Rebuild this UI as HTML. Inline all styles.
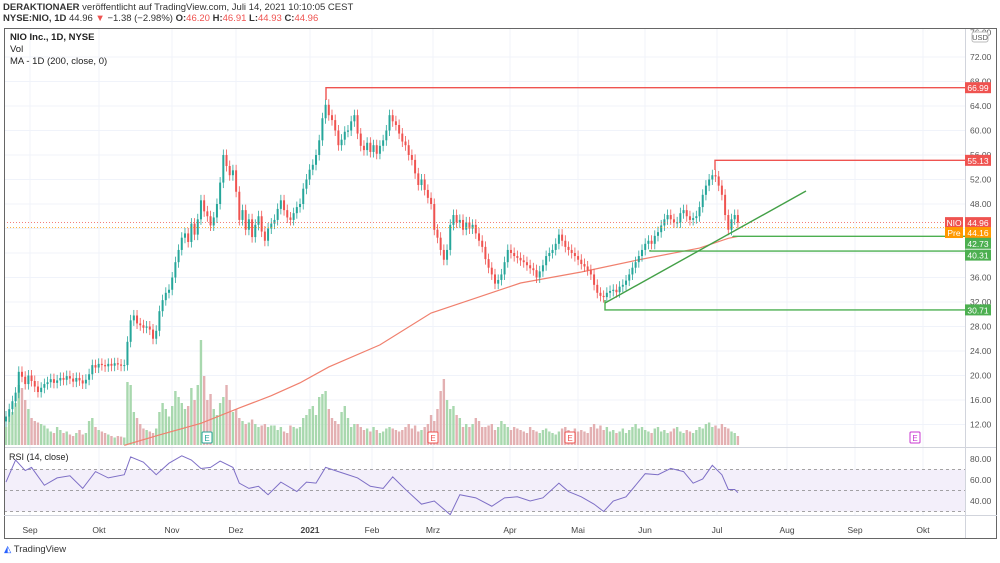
<!DOCTYPE html>
<html><head><meta charset="utf-8"><style>
body{margin:0;background:#fff;width:1000px;height:563px;overflow:hidden;font-family:"Liberation Sans",sans-serif}
svg{position:absolute;left:0;top:0}
text{font-family:"Liberation Sans",sans-serif}
</style></head><body>
<svg id="c" width="1000" height="563">
<g id="grid"></g>
<g id="vol"></g>
<g id="ma"></g>
<g id="candles"></g>
<g id="draw"></g>
<g id="rsi"></g>
<g id="axes"></g>
</svg>
<script>
const closes=[13.3,14.5,15.8,17.2,20.6,19.8,18.6,20.0,19.1,18.2,
17.3,18.0,18.6,18.9,19.4,18.8,19.2,19.6,19.3,19.9,
19.5,19.0,19.6,19.2,18.7,19.3,20.2,21.7,21.3,21.9,
21.7,21.5,21.9,21.6,22.0,21.8,21.6,21.7,25.5,29.0,
29.8,28.5,28.2,27.8,28.0,27.5,26.0,27.3,30.5,32.3,
33.5,34.0,36.0,38.5,40.5,42.5,43.2,41.8,44.8,43.0,
45.5,48.6,46.8,46.0,44.5,45.8,48.0,51.5,56.0,54.2,
52.7,53.5,50.0,45.4,47.0,43.8,45.5,42.6,44.6,46.0,
43.5,42.0,44.0,44.8,45.4,47.2,48.6,47.0,45.8,45.4,
46.5,47.5,48.0,50.5,52.0,53.6,54.4,56.0,58.4,62.0,
64.2,62.5,61.7,60.0,57.6,58.5,59.8,60.0,61.5,62.5,
59.5,57.5,56.8,58.0,56.5,57.6,56.2,57.5,58.4,60.0,
62.5,61.5,60.9,59.5,58.2,57.6,56.0,55.2,53.0,51.1,
52.0,50.3,49.0,48.0,43.8,42.5,40.5,38.9,40.5,44.6,
46.2,45.0,45.4,43.8,45.0,44.0,44.6,43.2,42.0,41.0,
39.0,37.6,36.5,35.0,35.6,36.5,38.5,40.5,40.0,39.5,
39.2,38.8,38.5,38.0,37.5,37.2,36.0,37.0,38.0,39.5,
40.0,40.5,41.5,43.0,42.0,41.0,40.5,40.0,39.5,38.9,
38.2,37.8,37.2,36.5,34.8,33.5,33.0,32.8,33.5,33.8,
34.0,33.6,34.5,34.8,35.5,36.5,37.6,38.5,39.5,40.5,
41.5,42.0,41.5,42.8,43.4,44.5,45.5,46.2,45.5,45.0,
45.0,46.5,47.0,46.0,45.4,45.7,46.0,47.5,49.5,51.0,
52.0,52.7,52.5,51.0,49.5,46.2,43.8,45.5,46.2,44.96];
const volumes=[60,95,110,140,200,190,150,120,90,80,
75,70,65,55,45,40,60,50,40,45,
35,30,40,50,35,40,80,90,60,50,
45,40,35,30,25,30,28,25,210,200,
110,90,70,55,50,45,40,55,110,140,
120,95,130,180,160,140,120,130,190,150,
200,350,230,150,170,120,100,140,160,200,
150,110,120,90,80,70,75,85,70,60,
65,70,60,65,65,50,60,45,40,65,
60,55,60,90,100,120,130,100,160,170,
180,120,90,80,70,110,130,90,60,70,
70,60,50,55,45,60,50,40,45,55,
60,55,50,45,50,60,70,55,65,45,
50,60,70,100,80,120,180,220,150,120,
130,100,90,60,70,60,70,90,80,60,
60,65,70,50,60,80,70,60,50,60,
55,50,45,40,60,50,45,40,50,55,
45,40,35,45,55,60,50,40,55,45,
50,45,40,60,70,55,65,50,60,45,
50,40,45,55,40,50,60,70,55,60,
50,45,40,55,60,45,50,40,45,55,
60,45,40,50,45,40,50,60,55,70,
75,60,65,55,70,60,55,45,40,30];
const maIdx=[37,48,61,73,83,92,101,117,133,145,161,180,198,217,226,229];
const maVals=[8.6,10.3,12.2,14.7,16.7,18.8,21.4,25.0,30.2,32.3,35.1,36.9,38.9,40.8,42.4,42.7];
const rsiIdx=[0,3,6,8,12,16,20,24,28,32,37,39,43,47,51,55,58,61,64,67,71,73,76,79,82,86,91,94,97,100,104,107,110,114,118,121,125,130,134,139,142,147,152,156,160,164,168,173,176,180,184,187,190,194,200,204,208,212,215,218,221,224,226,228,229];
const rsiVals=[58,79,69,72,55,62,64,52,68,62,65,82,77,65,76,83,79,71,72,78,72,57,52,54,46,58,49,58,57,72,68,65,62,54,52,63,51,37,40,27,46,43,35,43,44,40,43,57,49,44,37,30,40,44,66,65,71,68,57,61,74,65,51,51,48];
const priceTicks=[76,72,68,64,60,56,52,48,36,32,28,24,20,16,12];
const rsiTicks=[80,60,40];
const months=["Sep","Okt","Nov","Dez","2021","Feb","Mrz","Apr","Mai","Jun","Jul","Aug","Sep","Okt"];
const monthX=[30,99,172,236,310,372,433,510,578,645,717,787,855,923];
const levels=[66.99,55.13,42.73,40.31,30.71];

const NS="http://www.w3.org/2000/svg";
const X=i=>6+i*3.196;
const Y=p=>57+(72-p)*6.125;
const VY=v=>445-v*0.3;
const RY=r=>459+(80-r)*1.05;
function mk(g,tag,a,txt){const e=document.createElementNS(NS,tag);for(const k in a)e.setAttribute(k,a[k]);if(txt!==undefined)e.textContent=txt;document.getElementById(g).appendChild(e);return e;}
for(const p of [72,68,64,60,56,52,48,44,40,36,32,28,24,20,16,12]){const l=mk('grid','line',{x1:4,x2:965,y1:Y(p),y2:Y(p),stroke:'#f0f3fa'});

}
for(const x of monthX){const l=mk('grid','line',{x1:x,x2:x,y1:28,y2:515,stroke:'#f0f3fa'});

}
volumes.forEach((v,i)=>{const up=i==0||closes[i]>=closes[i-1];const r=mk('vol','rect',{x:X(i)-1.2,y:VY(v),width:2.4,height:445-VY(v),fill:up?'#a8d8ae':'#e3b0b2'});

});
const ml=mk('ma','polyline',{points:maIdx.map((k,j)=>X(k)+','+Y(maVals[j])).join(' '),fill:'none',stroke:'#f0806e','stroke-width':1.2});


closes.forEach((c,i)=>{const o=i==0?c-0.8:closes[i-1];const up=c>=o;const col=up?'#26a69a':'#ef5350';
const hi=Math.max(o,c)+0.9,lo=Math.min(o,c)-0.9;
const w=mk('candles','line',{x1:X(i),x2:X(i),y1:Y(hi),y2:Y(lo),stroke:col,'stroke-width':0.8});


const b=mk('candles','rect',{x:X(i)-1,y:Y(Math.max(o,c)),width:2,height:Math.max(1,Math.abs(Y(o)-Y(c))),fill:col});

});
let d1=mk('draw','line',{x1:4,x2:945,y1:Y(44.96),y2:Y(44.96),stroke:'#ef5350','stroke-dasharray':'1,2','stroke-width':0.8});


let d2=mk('draw','line',{x1:4,x2:945,y1:Y(44.16),y2:Y(44.16),stroke:'#ff9800','stroke-dasharray':'1,2','stroke-width':0.8});


const lvStart=[326,715,733,650,605],lvCol=['#ef5350','#ef5350','#4caf50','#4caf50','#4caf50'],lvDrop=[100,170,236,250,300];
levels.forEach((p,j)=>{const l=mk('draw','polyline',{points:`${lvStart[j]},${lvDrop[j]} ${lvStart[j]},${Y(p)} 965,${Y(p)}`,fill:'none',stroke:lvCol[j],'stroke-width':1.4});

});
const tl=mk('draw','line',{x1:605,y1:303,x2:806,y2:191,stroke:'#43a047','stroke-width':1.4});


[[207,'#26a69a'],[433,'#ef5350'],[570,'#ef5350'],[915,'#c837d0']].forEach(([x,c])=>{const r=mk('draw','rect',{x:x-5,y:432,width:10,height:11,fill:'#fff',stroke:c,rx:1});


const t=mk('draw','text',{x:x,y:441,'font-size':8,fill:c,'text-anchor':'middle'},'E');

});
let sep=mk('rsi','line',{x1:4,x2:997,y1:447.5,y2:447.5,stroke:'#d1d4dc'});


let band=mk('rsi','rect',{x:4,y:RY(70),width:961,height:RY(30)-RY(70),fill:'#f3effa'});


[70,50,30].forEach(r=>{const l=mk('rsi','line',{x1:4,x2:965,y1:RY(r),y2:RY(r),stroke:'#888','stroke-dasharray':'3,3','stroke-width':0.8});

});
const rl=mk('rsi','polyline',{points:rsiIdx.map((k,j)=>X(k)+','+RY(rsiVals[j])).join(' '),fill:'none',stroke:'#7e6fc6','stroke-width':1});


let rt=mk('rsi','text',{x:9,y:460,'font-size':9,fill:'#222'},'RSI (14, close)');


const a=[['line',{x1:965.5,x2:965.5,y1:28,y2:538,stroke:'#d1d4dc'}],['line',{x1:4.5,x2:4.5,y1:28,y2:538,stroke:'#666'}],['line',{x1:4,x2:997,y1:538.5,y2:538.5,stroke:'#666'}],['line',{x1:996.5,x2:996.5,y1:28,y2:538,stroke:'#666'}],['line',{x1:4,x2:997,y1:515.5,y2:515.5,stroke:'#d1d4dc'}]];
a.forEach(([t,o])=>{const e=mk('axes',t,o);

});
priceTicks.forEach(p=>{const t=mk('axes','text',{x:970,y:Y(p)+3,'font-size':8.5,fill:'#555'},p.toFixed(2));

});
rsiTicks.forEach(r=>{const t=mk('axes','text',{x:970,y:RY(r)+3,'font-size':8.5,fill:'#555'},r.toFixed(2));

});
months.forEach((m,j)=>{const t=mk('axes','text',{x:monthX[j],y:533,'font-size':8.5,fill:'#444','text-anchor':'middle','font-weight':m=='2021'?'bold':'normal'},m);

});
const tags=[[66.99,0,'#ef5350'],[55.13,0,'#ef5350'],[44.96,0,'#ef5350'],[44.16,5,'#ff9800'],[42.73,7,'#4caf50'],[40.31,4,'#4caf50'],[30.71,0,'#4caf50']];
tags.forEach(([p,off,c])=>{const y=Y(p)+off;const r=mk('axes','rect',{x:965,y:y-5.5,width:26,height:11,fill:c});


const t=mk('axes','text',{x:978,y:y+3.5,'font-size':8.5,fill:'#fff','text-anchor':'middle'},p.toFixed(2));

});
[['NIO',Y(44.96),'#ef5350'],['Pre',Y(44.16)+5,'#ff9800']].forEach(([s,y,c])=>{const r=mk('axes','rect',{x:945,y:y-5.5,width:18,height:11,fill:c});


const t=mk('axes','text',{x:954,y:y+3.5,'font-size':8.5,fill:'#fff','text-anchor':'middle'},s);

});
let ub=mk('axes','rect',{x:972,y:32,width:16,height:10,fill:'#fff',stroke:'#bbb',rx:2});


let ut=mk('axes','text',{x:980,y:40,'font-size':7.5,fill:'#555','text-anchor':'middle'},'USD');


let l1=mk('axes','line',{x1:4,x2:997,y1:28.5,y2:28.5,stroke:'#666'});


</script>
<div style="position:absolute;left:3px;top:2px;font-size:9.5px;color:#333;line-height:11px">
<div><b>DERAKTIONAER</b> veröffentlicht auf TradingView.com, Juli 14, 2021 10:10:05 CEST</div>
<div><b>NYSE:NIO, 1D</b> 44.96 <span style="color:#ef5350">▼</span> −1.38 (−2.98%) <b>O:</b><span style="color:#ef5350">46.20</span> <b>H:</b><span style="color:#ef5350">46.91</span> <b>L:</b><span style="color:#ef5350">44.93</span> <b>C:</b><span style="color:#ef5350">44.96</span></div>
</div>
<div style="position:absolute;left:10px;top:32px;font-size:9.5px;color:#222;line-height:12px">
<div><b>NIO Inc., 1D, NYSE</b></div>
<div>Vol</div>
<div>MA - 1D (200, close, 0)</div>
</div>
<div style="position:absolute;left:4px;top:544px;font-size:9.5px;color:#333"><span style="color:#2962ff">◭</span> TradingView</div>
</body></html>
